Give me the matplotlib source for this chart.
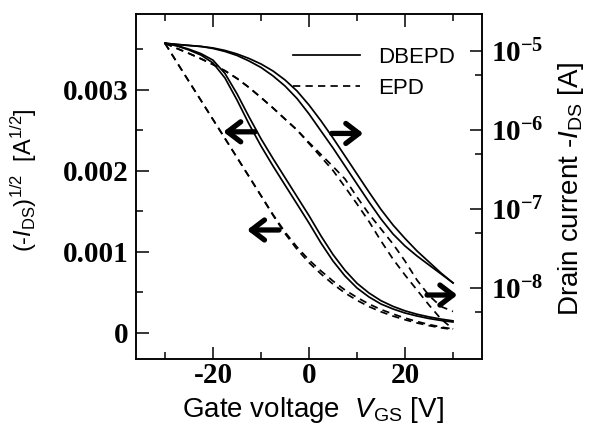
import matplotlib
matplotlib.use('Agg')
import matplotlib.pyplot as plt
from matplotlib.lines import Line2D
from matplotlib.ticker import FixedLocator, NullFormatter

plt.rcParams['mathtext.fontset'] = 'custom'
plt.rcParams['mathtext.rm'] = 'Liberation Sans'
plt.rcParams['mathtext.it'] = 'Liberation Sans:italic'
plt.rcParams['mathtext.bf'] = 'Liberation Serif:bold'
plt.rcParams['axes.unicode_minus'] = False
plt.rcParams['font.family'] = ['Liberation Sans', 'DejaVu Sans']

# ---------------- data ----------------
vgs = [-30, -27.5, -25, -22.5, -20, -17.5, -15, -12.5, -10, -7.5, -5, -2.5,
       0, 2.5, 5, 7.5, 10, 12.5, 15, 17.5, 20, 22.5, 25, 27.5, 30]

# (-I_DS)^1/2 [A^1/2]
dbepd_sqrt_fwd = [0.003573, 0.003540, 0.003490, 0.003428, 0.003330, 0.003144, 0.002873,
                  0.002577, 0.002305, 0.002058, 0.001823, 0.001589, 0.001354, 0.001107,
                  0.000885, 0.000700, 0.000552, 0.000441, 0.000354, 0.000293, 0.000243,
                  0.000206, 0.000175, 0.000151, 0.000132]
dbepd_sqrt_rev = [0.003573, 0.003545, 0.003500, 0.003445, 0.003365, 0.003200, 0.002950,
                  0.002665, 0.002395, 0.002150, 0.001915, 0.001680, 0.001445, 0.001195,
                  0.000965, 0.000770, 0.000610, 0.000490, 0.000395, 0.000325, 0.000270,
                  0.000228, 0.000195, 0.000168, 0.000146]
epd_sqrt_fwd = [0.003573, 0.003336, 0.003101, 0.002867, 0.002632, 0.002398, 0.002163,
                0.001928, 0.001694, 0.001459, 0.001243, 0.001058, 0.000898, 0.000762,
                0.000638, 0.000527, 0.000435, 0.000354, 0.000286, 0.000231, 0.000181,
                0.000138, 0.000101, 0.000070, 0.000046]
epd_sqrt_rev = [0.003573, 0.003336, 0.003101, 0.002867, 0.002632, 0.002398, 0.002163,
                0.001928, 0.001690, 0.001450, 0.001225, 0.001030, 0.000865, 0.000725,
                0.000600, 0.000490, 0.000400, 0.000322, 0.000258, 0.000205, 0.000160,
                0.000120, 0.000087, 0.000060, 0.000040]

# -I_DS [A]
dbepd_log_fwd = [1.240e-5, 1.198e-5, 1.163e-5, 1.130e-5, 1.066e-5, 9.77e-6, 8.70e-6,
                 7.41e-6, 6.14e-6, 4.80e-6, 3.58e-6, 2.49e-6, 1.59e-6, 9.68e-7,
                 5.91e-7, 3.50e-7, 2.07e-7, 1.23e-7, 7.50e-8, 4.85e-8, 3.42e-8,
                 2.56e-8, 1.97e-8, 1.52e-8, 1.17e-8]
dbepd_log_rev = [1.240e-5, 1.198e-5, 1.163e-5, 1.130e-5, 1.082e-5, 1.006e-5, 9.09e-6,
                 7.97e-6, 6.79e-6, 5.54e-6, 4.27e-6, 3.10e-6, 2.06e-6, 1.30e-6,
                 7.90e-7, 4.68e-7, 2.77e-7, 1.64e-7, 9.89e-8, 6.30e-8, 4.26e-8,
                 2.96e-8, 2.15e-8, 1.56e-8, 1.17e-8]
epd_log_fwd = [1.240e-5, 1.066e-5, 9.22e-6, 7.90e-6, 6.69e-6, 5.57e-6, 4.46e-6,
               3.43e-6, 2.56e-6, 1.89e-6, 1.37e-6, 9.97e-7, 6.93e-7, 4.89e-7,
               3.45e-7, 2.40e-7, 1.42e-7, 8.67e-8, 5.61e-8, 3.63e-8, 2.21e-8,
               1.27e-8, 8.11e-9, 5.89e-9, 5.10e-9]
epd_log_rev = [1.240e-5, 1.066e-5, 9.22e-6, 7.90e-6, 6.69e-6, 5.57e-6, 4.46e-6,
               3.43e-6, 2.56e-6, 1.89e-6, 1.37e-6, 9.97e-7, 6.73e-7, 4.55e-7,
               3.07e-7, 1.90e-7, 1.16e-7, 6.97e-8, 3.96e-8, 2.34e-8, 1.47e-8,
               9.52e-9, 6.15e-9, 4.10e-9, 3.06e-9]

x_ticks = [-20, 0, 20]
x_minor = [-30, -10, 10, 30]
left_ticks = [0, 0.001, 0.002, 0.003]
left_labels = ['0', '0.001', '0.002', '0.003']
left_minor = [0.0005, 0.0015, 0.0025, 0.0035]
right_ticks = [1e-8, 1e-7, 1e-6, 1e-5]
right_labels = [r'$\mathbf{10^{-8}}$', r'$\mathbf{10^{-7}}$', r'$\mathbf{10^{-6}}$', r'$\mathbf{10^{-5}}$']
right_minor = [5e-9, 5e-8, 5e-7, 5e-6]
legend_labels = ['DBEPD', 'EPD']

# ---------------- figure ----------------
fig = plt.figure(figsize=(5.89, 4.26), dpi=100)
ax = fig.add_axes([0.2309, 0.1573, 0.5874, 0.8099])
ax2 = ax.twinx()
ax2.set_yscale('log')

lw = 1.25
dash = (4.2, 3.0)
ax.plot(vgs, dbepd_sqrt_fwd, color='k', lw=lw)
ax.plot(vgs, dbepd_sqrt_rev, color='k', lw=lw)
ax.plot(vgs, epd_sqrt_fwd, color='k', lw=lw, ls=(0, dash))
ax.plot(vgs, epd_sqrt_rev, color='k', lw=lw, ls=(0, dash))
ax2.plot(vgs, dbepd_log_fwd, color='k', lw=lw)
ax2.plot(vgs, dbepd_log_rev, color='k', lw=lw)
ax2.plot(vgs, epd_log_fwd, color='k', lw=lw, ls=(0, dash))
ax2.plot(vgs, epd_log_rev, color='k', lw=lw, ls=(0, dash))

ax.set_xlim(-36.04, 36.04)
ax.set_ylim(-3.247e-4, 3.935e-3)
ax2.set_ylim(1.281e-9, 2.905e-5)

tick_font = dict(family='Liberation Serif', weight='bold', size=21)
ax.set_xticks(x_ticks)
ax.set_xticklabels([str(v) for v in x_ticks], **tick_font)
ax.xaxis.set_minor_locator(FixedLocator(x_minor))
ax.set_yticks(left_ticks)
ax.set_yticklabels(left_labels, **tick_font)
ax.yaxis.set_minor_locator(FixedLocator(left_minor))
ax2.set_yticks(right_ticks)
ax2.set_yticklabels(right_labels, size=21)
ax2.yaxis.set_minor_locator(FixedLocator(right_minor))
ax2.yaxis.set_minor_formatter(NullFormatter())

ax.tick_params(which='both', direction='in', top=True, right=False, width=1.1)
ax.tick_params(which='major', length=9)
ax.tick_params(which='minor', length=5)
ax.tick_params(axis='y', which='major', pad=5.5)
ax.tick_params(axis='x', which='major', pad=2.5)
ax2.tick_params(which='both', direction='in', right=True, left=False, top=False, width=1.1)
ax2.tick_params(which='major', length=9, pad=6.5)
ax2.tick_params(which='minor', length=5)
for a in (ax, ax2):
    for s in a.spines.values():
        s.set_linewidth(1.1)

# direction arrows
arrow_kw = dict(arrowstyle='->,head_length=0.47,head_width=0.36', lw=3.8, color='k',
                shrinkA=0, shrinkB=0, mutation_scale=20)
ax.annotate('', xy=(-17.85, 2.48e-3), xytext=(-11.25, 2.48e-3), arrowprops=arrow_kw)
ax.annotate('', xy=(-12.9, 1.268e-3), xytext=(-6.25, 1.268e-3), arrowprops=arrow_kw)
ax.annotate('', xy=(11.3, 2.46e-3), xytext=(4.72, 2.46e-3), arrowprops=arrow_kw)
ax.annotate('', xy=(30.9, 0.465e-3), xytext=(24.6, 0.465e-3), arrowprops=arrow_kw)

# legend
handles = [Line2D([], [], color='k', lw=lw),
           Line2D([], [], color='k', lw=lw, ls=(0, dash))]
ax2.legend(handles, legend_labels, loc='upper left', bbox_to_anchor=(0.455, 0.905),
           frameon=False, handlelength=3.0, fontsize=16, labelspacing=0.45,
           handletextpad=0.8, borderpad=0, borderaxespad=0)

# axis labels
fig.text(312.5 / 589, 9 / 426, r'Gate voltage  $\mathit{V}_{\mathrm{GS}}$ [V]',
         ha='center', va='baseline', fontsize=20)
fig.text(24 / 589, 1 - 180 / 426,
         r'(-$\mathit{I}_{\mathrm{DS}}$)$^{\mathrm{1/2}}$  [A$^{\mathrm{1/2}}$]',
         rotation=90, ha='center', va='center', fontsize=17)
fig.text(571 / 589, 1 - 188.5 / 426, r'Drain current -$\mathit{I}_{\mathrm{DS}}$ [A]',
         rotation=90, ha='center', va='center', fontsize=20)

fig.savefig('out.png', dpi=100)
